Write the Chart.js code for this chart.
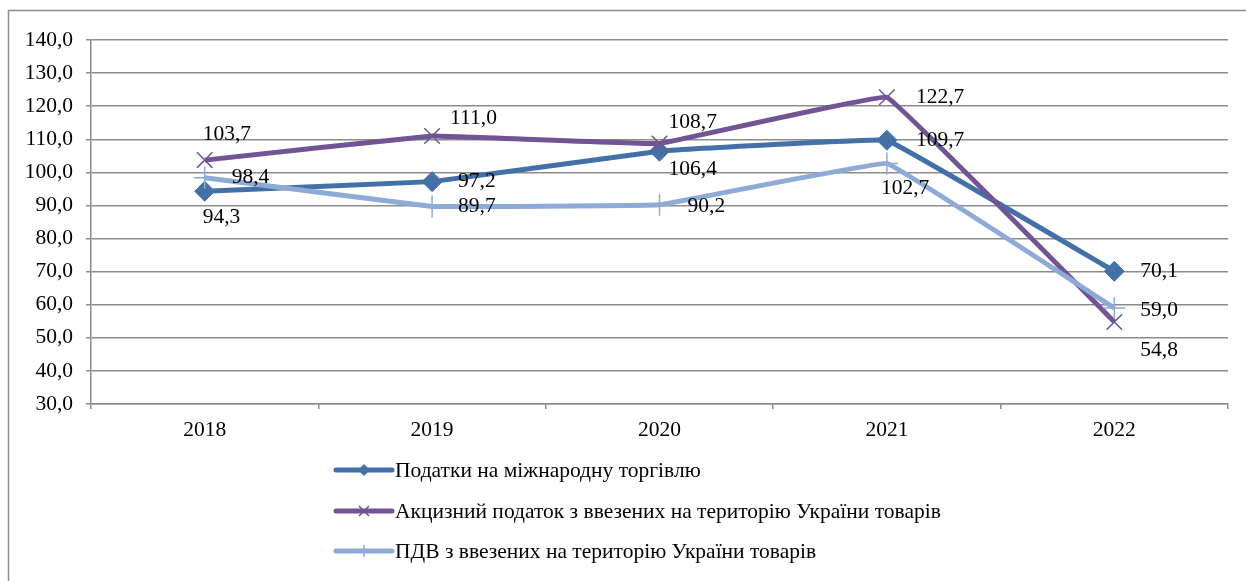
<!DOCTYPE html>
<html>
<head>
<meta charset="utf-8">
<script src="https://cdn.jsdelivr.net/npm/chart.js@4/dist/chart.umd.min.js"></script>
<style>
  html, body { margin: 0; padding: 0; background: #fff; }
  #wrap { width: 1246px; height: 581px; position: relative; }
</style>
</head>
<body>
<div id="wrap"><canvas id="c" width="1246" height="581"></canvas></div>
<script>
// ---- DATA ----
const categories = ['2018', '2019', '2020', '2021', '2022'];
const seriesNames = [
  'Податки на міжнародну торгівлю',
  'Акцизний податок з ввезених на територію України товарів',
  'ПДВ з ввезених на територію України товарів'
];
const tradeTaxes = [94.3, 97.2, 106.4, 109.7, 70.1];
const exciseImports = [103.7, 111.0, 108.7, 122.7, 54.8];
const vatImports = [98.4, 89.7, 90.2, 102.7, 59.0];
const yTicks = { min: 30, max: 140, step: 10 };

// ---- STYLE ----
const FONT = "'Liberation Serif', 'Times New Roman', serif";
const FS = 21.5;
const GRID = '#8c8c8c';
const colors = ['#4370a7', '#705494', '#8eaad6'];
// label offsets [dx, dy] from the point (text left-aligned, vertically centred)
const labelOffsets = [
  [[-2, 26], [26, 0], [9, 18], [29, 0], [26, 0]],
  [[-2, -26], [18, -18], [9, -21], [29, 0], [26, 28]],
  [[27, 0], [26, 0], [28, 2], [-6, 25], [26, 2]]
];

const fmt = v => v.toFixed(1).replace('.', ',');

const bgBorder = {
  id: 'bgBorder',
  beforeDraw(chart) {
    const ctx = chart.ctx;
    ctx.save();
    ctx.fillStyle = '#fff';
    ctx.fillRect(0, 0, chart.width, chart.height);
    ctx.strokeStyle = '#8c8c8c';
    ctx.lineWidth = 1.5;
    ctx.strokeRect(8.5, 10.5, 1400, 800);
    ctx.restore();
  }
};

const dataLabels = {
  id: 'dataLabels',
  afterDatasetsDraw(chart) {
    const ctx = chart.ctx;
    ctx.save();
    ctx.font = FS + 'px ' + FONT;
    ctx.fillStyle = '#000';
    ctx.textAlign = 'left';
    ctx.textBaseline = 'middle';
    chart.data.datasets.forEach((ds, i) => {
      const meta = chart.getDatasetMeta(i);
      meta.data.forEach((pt, j) => {
        const off = labelOffsets[i][j];
        ctx.fillText(fmt(ds.data[j]), pt.x + off[0], pt.y + off[1]);
      });
    });
    ctx.restore();
  }
};

const customLegend = {
  id: 'customLegend',
  afterDraw(chart) {
    const ctx = chart.ctx;
    const x0 = 336, x1 = 392, tx = 395;
    const ys = [470, 511, 551];
    ctx.save();
    chart.data.datasets.forEach((ds, i) => {
      const y = ys[i];
      ctx.strokeStyle = ds.borderColor;
      ctx.lineWidth = 5;
      ctx.lineCap = 'round';
      ctx.beginPath();
      ctx.moveTo(x0, y);
      ctx.lineTo(x1, y);
      ctx.stroke();
      const cx = (x0 + x1) / 2;
      ctx.lineCap = 'butt';
      if (i === 0) {
        ctx.fillStyle = ds.borderColor;
        ctx.beginPath();
        ctx.moveTo(cx, y - 6); ctx.lineTo(cx + 6, y); ctx.lineTo(cx, y + 6); ctx.lineTo(cx - 6, y);
        ctx.closePath(); ctx.fill();
      } else if (i === 1) {
        ctx.lineWidth = 1.5;
        ctx.beginPath();
        ctx.moveTo(cx - 5, y - 5); ctx.lineTo(cx + 5, y + 5);
        ctx.moveTo(cx + 5, y - 5); ctx.lineTo(cx - 5, y + 5);
        ctx.stroke();
      } else {
        ctx.lineWidth = 1.5;
        ctx.beginPath();
        ctx.moveTo(cx, y - 6); ctx.lineTo(cx, y + 6);
        ctx.stroke();
      }
      ctx.fillStyle = '#000';
      ctx.font = FS + 'px ' + FONT;
      ctx.textAlign = 'left';
      ctx.textBaseline = 'middle';
      ctx.fillText(ds.label, tx, y + 1);
    });
    ctx.restore();
  }
};

const seriesData = [tradeTaxes, exciseImports, vatImports];
const pointStyles = ['rectRot', 'crossRot', 'cross'];
const pointRadii = [10, 11, 11];

new Chart(document.getElementById('c'), {
  type: 'line',
  data: {
    labels: categories,
    datasets: seriesData.map((d, i) => ({
      label: seriesNames[i],
      data: d,
      borderColor: colors[i],
      backgroundColor: colors[i],
      borderWidth: 5,
      tension: 0.04,
      pointStyle: pointStyles[i],
      pointRadius: pointRadii[i],
      pointBorderWidth: i === 0 ? 1 : 1.5,
      pointBackgroundColor: colors[i],
      pointBorderColor: colors[i],
      order: 2 - i
    }))
  },
  options: {
    responsive: false,
    animation: false,
    layout: { padding: { left: 8, top: 40, right: 18, bottom: 0 } },
    plugins: { legend: { display: false }, tooltip: { enabled: false } },
    scales: {
      x: {
        offset: true,
        grid: { offset: true, drawOnChartArea: false, drawTicks: true, tickLength: 5, color: GRID, lineWidth: 1.5 },
        border: { color: GRID, width: 1.5 },
        ticks: { font: { family: FONT, size: FS }, color: '#000', padding: 8, maxRotation: 0 },
        afterFit(s) { s.height = 177; }
      },
      y: {
        min: yTicks.min, max: yTicks.max,
        grid: { color: GRID, lineWidth: 1.5, tickLength: 5 },
        border: { color: GRID, width: 1.5 },
        ticks: { stepSize: yTicks.step, font: { family: FONT, size: FS }, color: '#000', padding: 13, callback: v => fmt(v) },
        afterFit(s) { s.width = 83; }
      }
    }
  },
  plugins: [bgBorder, dataLabels, customLegend]
});
</script>
</body>
</html>
